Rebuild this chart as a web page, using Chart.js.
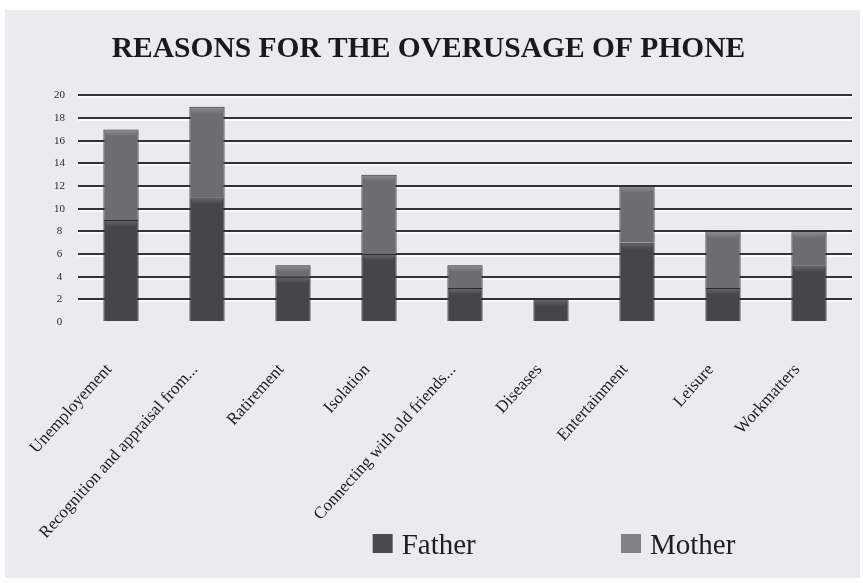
<!DOCTYPE html>
<html>
<head>
<meta charset="utf-8">
<script src="https://cdn.jsdelivr.net/npm/chart.js@4.4.1/dist/chart.umd.min.js"></script>
<style>
  html, body { margin: 0; padding: 0; background: #fff; }
  #panel { position: absolute; left: 5px; top: 10px; width: 855px; height: 568px; background: #ebeaee; }
</style>
</head>
<body>
<div id="panel"><canvas id="chart" width="855" height="568"></canvas></div>
<script>
    const categories = [
        'Unemployement',
        'Recognition and appraisal from...',
        'Ratirement',
        'Isolation',
        'Connecting with old friends...',
        'Diseases',
        'Entertainment',
        'Leisure',
        'Workmatters'
    ];
    const fatherValues = [9, 11, 4, 6, 3, 2, 7, 3, 5];
    const motherValues = [8, 8, 1, 7, 2, 0, 5, 5, 3];
    const yMax = 20;
    const yStep = 2;

    const serif = '"Liberation Serif", "DejaVu Serif", serif';

    // light line under each grid line, like the embossed look of the original
    const gridHighlight = {
        id: 'gridHighlight',
        beforeDatasetsDraw(chart) {
            const y = chart.scales.y;
            const area = chart.chartArea;
            const ctx = chart.ctx;
            ctx.save();
            ctx.strokeStyle = 'rgba(255,255,255,0.9)';
            ctx.lineWidth = 1.5;
            y.ticks.forEach(t => {
                if (t.value === 0) return;
                const py = Math.round(y.getPixelForValue(t.value)) + 2;
                ctx.beginPath();
                ctx.moveTo(area.left, py);
                ctx.lineTo(area.right, py);
                ctx.stroke();
            });
            ctx.restore();
        }
    };

    // lighter bevel band at the top of each bar segment
    const barBevel = {
        id: 'barBevel',
        afterDatasetsDraw(chart) {
            const ctx = chart.ctx;
            ctx.save();
            chart.data.datasets.forEach((ds, i) => {
                const meta = chart.getDatasetMeta(i);
                meta.data.forEach(bar => {
                    const p = bar.getProps(['x', 'y', 'base', 'width'], true);
                    if (Math.abs(p.base - p.y) < 2) return;
                    const left = p.x - p.width / 2 + 1;
                    const g = ctx.createLinearGradient(0, p.y, 0, p.y + 7);
                    g.addColorStop(0, ds.bevelColor);
                    g.addColorStop(1, ds.backgroundColor);
                    ctx.fillStyle = g;
                    ctx.beginPath();
                    ctx.moveTo(left, p.y + 1);
                    ctx.lineTo(left + p.width - 2, p.y + 1);
                    ctx.lineTo(left + p.width - 5, p.y + 7);
                    ctx.lineTo(left + 3, p.y + 7);
                    ctx.closePath();
                    ctx.fill();
                });
            });
            ctx.restore();
        }
    };

    const bottomLegend = {
        id: 'bottomLegend',
        afterDraw(chart) {
            const ctx = chart.ctx;
            const starts = [0.43, 0.7205];
            ctx.save();
            ctx.font = '29px ' + serif;
            ctx.textBaseline = 'alphabetic';
            chart.data.datasets.forEach((ds, i) => {
                const x = chart.width * starts[i];
                const y = chart.height - 44;
                ctx.fillStyle = ds.legendColor;
                ctx.fillRect(x, y, 20, 19);
                ctx.fillStyle = '#1e1e1e';
                ctx.fillText(ds.label, x + 29, y + 20);
            });
            ctx.restore();
        }
    };

    new Chart(document.getElementById('chart'), {
        type: 'bar',
        data: {
            labels: categories,
            datasets: [{
                label: 'Father',
                data: fatherValues,
                backgroundColor: '#46454a',
                bevelColor: '#68676c',
                legendColor: '#4a494e',
                borderColor: '#2c2b2f',
                borderWidth: 1,
                barPercentage: 1,
                categoryPercentage: 0.41,
            }, {
                label: 'Mother',
                data: motherValues,
                backgroundColor: '#6d6d71',
                bevelColor: '#909094',
                legendColor: '#818185',
                borderColor: '#2c2b2f',
                borderWidth: 1,
                barPercentage: 1,
                categoryPercentage: 0.41,
            }],
        },
        options: {
            responsive: false,
            animation: false,
            layout: { padding: { left: 0, right: 8, bottom: 0 } },
            plugins: {
                legend: { display: false },
                tooltip: { enabled: false },
                title: {
                    display: true,
                    text: 'REASONS FOR THE OVERUSAGE OF PHONE',
                    color: '#1a1a1a',
                    font: { family: serif, size: 29.5, weight: 'bold' },
                    padding: { top: 22, bottom: 28 },
                },
            },
            scales: {
                x: {
                    stacked: true,
                    grid: { display: false },
                    border: { display: false },
                    ticks: {
                        autoSkip: false,
                        maxRotation: 48,
                        minRotation: 48,
                        padding: 30,
                        labelOffset: -12,
                        color: '#222',
                        font: { family: serif, size: 17 },
                    },
                    afterFit(scale) { scale.height = 256; },
                },
                y: {
                    stacked: true,
                    min: 0,
                    max: yMax,
                    grid: {
                        color: ctx => ctx.tick.value === 0 ? 'rgba(0,0,0,0)' : '#333236',
                        lineWidth: 2,
                        drawTicks: false,
                    },
                    border: { display: false },
                    ticks: {
                        stepSize: yStep,
                        crossAlign: 'center',
                        padding: 13,
                        color: '#2a2a2a',
                        font: { family: serif, size: 11 },
                    },
                    afterFit(scale) { scale.width = 73; },
                },
            },
        },
        plugins: [gridHighlight, barBevel, bottomLegend],
    });
</script>
</body>
</html>
